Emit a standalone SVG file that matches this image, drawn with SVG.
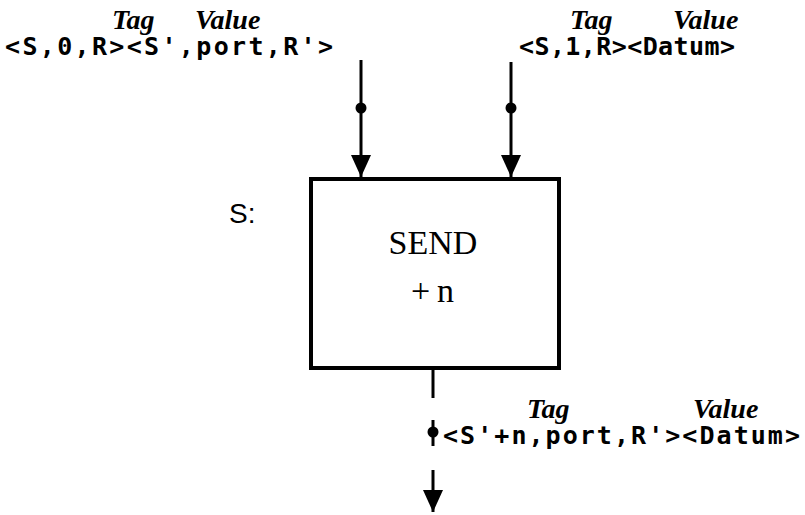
<svg xmlns="http://www.w3.org/2000/svg" width="805" height="515" viewBox="0 0 805 515">
<style>
.it{font-family:"Liberation Serif",serif;font-style:italic;font-weight:bold;font-size:28px;fill:#000}
.mono{font-family:"DejaVu Sans Mono","Liberation Mono",monospace;font-weight:bold;font-size:25px;fill:#000}
.rm{font-family:"Liberation Serif",serif;font-size:34px;fill:#000}
.sans{font-family:"Liberation Sans",sans-serif;font-size:28px;fill:#000}
.ln{stroke:#000;stroke-width:3;fill:none}
.box{stroke:#000;stroke-width:4;fill:#fff}
.dot{fill:#000}
</style>
<defs>
<marker id="ah" markerWidth="22" markerHeight="20" refX="22" refY="10" orient="auto" markerUnits="userSpaceOnUse" viewBox="0 0 22 20">
<path d="M0,0 L22,10 L0,20 Z" fill="#000"/>
</marker>
</defs>
<g id="labels">
<text class="it" x="112" y="29">Tag</text>
<text class="it" x="195" y="29">Value</text>
<text class="mono" x="5" y="55" textLength="328" lengthAdjust="spacing">&lt;S,0,R&gt;&lt;S',port,R'&gt;</text>
<text class="it" x="570" y="29">Tag</text>
<text class="it" x="673" y="29">Value</text>
<text class="mono" x="519" y="55" textLength="216" lengthAdjust="spacing">&lt;S,1,R&gt;&lt;Datum&gt;</text>
<text class="it" x="527" y="418">Tag</text>
<text class="it" x="693" y="418">Value</text>
<text class="mono" x="443" y="444" textLength="357" lengthAdjust="spacing">&lt;S'+n,port,R'&gt;&lt;Datum&gt;</text>
<text class="sans" x="229" y="223">S:</text>
</g>
<g id="send">
<rect x="311" y="179" width="248" height="189" class="box"/>
<text class="rm" x="433" y="254" text-anchor="middle">SEND</text>
<text class="rm" x="436" y="302" text-anchor="middle" letter-spacing="7">+n</text>
</g>
<g id="connectors">
<line x1="361" y1="60" x2="361" y2="177" class="ln" marker-end="url(#ah)"/>
<circle cx="361" cy="108" r="5.5" class="dot"/>
<line x1="511" y1="62" x2="511" y2="177" class="ln" marker-end="url(#ah)"/>
<circle cx="511" cy="108" r="5.5" class="dot"/>
<line x1="433" y1="370" x2="433" y2="398" class="ln"/>
<line x1="433" y1="420" x2="433" y2="446" class="ln"/>
<circle cx="433" cy="432" r="5.5" class="dot"/>
<line x1="433" y1="470" x2="433" y2="512" class="ln" marker-end="url(#ah)"/>
</g>
</svg>
